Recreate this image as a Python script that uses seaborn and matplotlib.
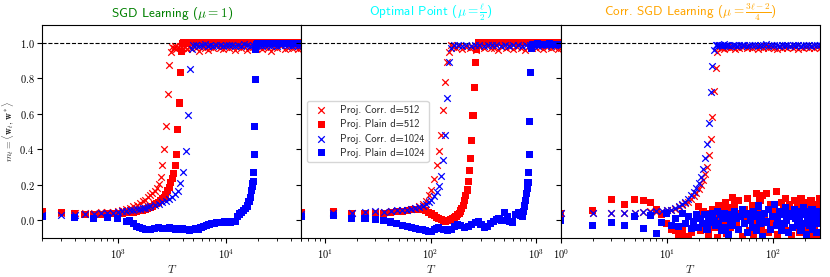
import matplotlib
matplotlib.use("Agg")
import matplotlib.pyplot as plt
import pandas as pd
import seaborn as sns

# ---------------- panel 1 : SGD Learning ----------------
p1_T_corr512 = [200, 300, 400, 500, 600, 700, 800, 900, 1000, 1100,
                1200, 1300, 1400, 1500, 1600, 1700, 1800, 1900, 2000, 2100,
                2200, 2300, 2400, 2500, 2600, 2700, 2800, 2900, 3000, 3100,
                3200, 3300, 3400, 3500, 3600, 3800, 4000, 4200, 4400, 4600,
                4800, 5000, 5300, 5600, 6000, 6400, 6800, 7200, 7700, 8200,
                8800, 9400, 10000, 10700, 11400, 12200, 13000, 13900, 14800, 15800,
                16800, 17900, 19000, 20200, 21500, 23000, 24500, 26000, 28000, 30000,
                32500, 35000, 38000, 41000, 44000, 47000, 50000]
p1_m_corr512 = [0.040, 0.041, 0.040, 0.042, 0.043, 0.044, 0.045, 0.046, 0.050, 0.055,
                0.062, 0.070, 0.078, 0.088, 0.097, 0.106, 0.116, 0.128, 0.140, 0.152,
                0.166, 0.182, 0.205, 0.245, 0.310, 0.400, 0.530, 0.710, 0.875, 0.950,
                0.975, 0.970, 0.980, 0.965, 0.975, 0.980, 0.970, 0.975, 0.962, 0.978,
                0.970, 0.980, 0.972, 0.955, 0.978, 0.970, 0.960, 0.975, 0.968, 0.980,
                0.972, 0.963, 0.975, 0.970, 0.978, 0.958, 0.975, 0.968, 0.980, 0.960,
                0.972, 0.975, 0.968, 0.975, 0.965, 0.978, 0.970, 0.955, 0.975, 0.970,
                0.980, 0.965, 0.972, 0.968, 0.975, 0.962, 0.970]

p1_T_plain512 = [200, 300, 400, 500, 600, 700, 800, 900, 1000, 1100,
                 1200, 1300, 1400, 1500, 1600, 1700, 1800, 1900, 2000, 2100,
                 2200, 2300, 2400, 2500, 2600, 2700, 2800, 2900, 3000, 3100,
                 3200, 3300, 3400, 3500, 3600, 3700, 3800, 3900, 4000, 4100,
                 4300, 4600, 5000, 5400, 5800, 6300, 6800, 7400, 8000, 8700,
                 9400, 10200, 11000, 12000, 13000, 14000, 15200, 16400, 17700, 19000,
                 20500, 22000, 24000, 26000, 28000, 30000, 32500, 35000, 38000, 41000,
                 44000, 47000, 50000]
p1_m_plain512 = [0.047, 0.044, 0.035, 0.030, 0.030, 0.034, 0.038, 0.040, 0.040, 0.040,
                 0.042, 0.044, 0.046, 0.050, 0.053, 0.056, 0.060, 0.065, 0.070, 0.078,
                 0.086, 0.093, 0.100, 0.110, 0.120, 0.130, 0.145, 0.165, 0.185, 0.210,
                 0.235, 0.265, 0.310, 0.370, 0.510, 0.660, 0.830, 0.950, 0.995, 1.000,
                 0.998, 1.000, 1.000, 0.999, 1.000, 0.998, 1.000, 1.000, 0.999, 1.000,
                 1.000, 0.998, 1.000, 0.999, 1.000, 1.000, 0.998, 1.000, 1.000, 0.999,
                 1.000, 0.998, 1.000, 1.000, 0.999, 1.000, 1.000, 0.998, 1.000, 1.000,
                 0.999, 1.000, 1.000]

p1_T_corr1024 = [200, 300, 400, 500, 600, 700, 800, 900, 1000, 1100,
                 1200, 1300, 1400, 1500, 1600, 1700, 1800, 1900, 2000, 2200,
                 2400, 2600, 2800, 3000, 3200, 3400, 3600, 3800, 4000, 4300,
                 4500, 4700, 4850, 5000, 5300, 5600, 6000, 6400, 6800, 7200,
                 7700, 8200, 8800, 9400, 10000, 10700, 11400, 12200, 13000, 13900,
                 14800, 15800, 16800, 17900, 19000, 20200, 21500, 23000, 24500, 26000,
                 28000, 30000, 32500, 35000, 38000, 41000, 44000, 47000, 50000]
p1_m_corr1024 = [0.030, 0.030, 0.032, 0.034, 0.036, 0.038, 0.040, 0.043, 0.046, 0.049,
                 0.052, 0.055, 0.058, 0.061, 0.064, 0.067, 0.070, 0.074, 0.078, 0.085,
                 0.092, 0.100, 0.108, 0.118, 0.130, 0.145, 0.165, 0.210, 0.273, 0.390,
                 0.593, 0.853, 0.965, 0.985, 0.988, 0.982, 0.986, 0.990, 0.984, 0.987,
                 0.983, 0.988, 0.985, 0.982, 0.987, 0.985, 0.988, 0.983, 0.986, 0.984,
                 0.990, 0.985, 0.982, 0.987, 0.985, 0.986, 0.983, 0.988, 0.985, 0.984,
                 0.987, 0.982, 0.986, 0.985, 0.988, 0.983, 0.986, 0.984, 0.987]

p1_T_plain1024 = [200, 400, 600, 800, 1000,
                  1200, 1300, 1400, 1500, 1600, 1700, 1800, 1900, 2000,
                  2200, 2400, 2600, 2800, 3000, 3200, 3400, 3600, 3800, 4000,
                  4200, 4400, 4600, 4800, 5000, 5300, 5600, 5900, 6200, 6600,
                  7000, 7400, 7800, 8300, 8800, 9300, 9800, 10400, 11000, 11600,
                  12200, 12800, 13400, 14000, 14600, 15200, 15800, 16400, 16900, 17300,
                  17600, 17800, 18000, 18200, 18400, 18600, 18800, 19000, 19200, 19600,
                  20200, 21000, 22000, 23000, 24000, 25500, 27000, 28500, 30000, 32000,
                  34000, 36000, 38500, 41000, 44000, 47000, 50000]
p1_m_plain1024 = [0.020, 0.017, 0.012, 0.017, 0.010,
                  -0.008, 0.000, -0.020, -0.035, -0.040, -0.045, -0.050, -0.055, -0.055,
                  -0.045, -0.040, -0.045, -0.045, -0.040, -0.045, -0.050, -0.045, -0.050, -0.045,
                  -0.055, -0.050, -0.060, -0.050, -0.050, -0.045, -0.050, -0.040, -0.035, -0.030,
                  -0.025, -0.020, -0.020, -0.015, -0.015, -0.012, -0.010, -0.012, -0.010, -0.008,
                  -0.005, 0.020, 0.035, 0.045, 0.055, 0.065, 0.080, 0.105, 0.130, 0.165,
                  0.190, 0.205, 0.220, 0.270, 0.370, 0.530, 0.790, 0.960, 0.990, 0.995,
                  0.995, 0.993, 0.996, 0.994, 0.995, 0.993, 0.996, 0.994, 0.995, 0.993,
                  0.996, 0.994, 0.995, 0.993, 0.996, 0.994, 0.995]

# ---------------- panel 2 : Optimal Point ----------------
p2_T_corr512 = [6, 12, 18, 24, 30, 36, 42, 48, 54, 60,
                66, 72, 78, 84, 90, 96, 102, 108, 114, 120,
                126, 132, 138, 144, 150, 156, 162, 174, 186, 198,
                216, 234, 252, 270, 294, 318, 342, 372, 402, 438,
                474, 516, 558, 606, 660, 714, 774, 840, 912, 990,
                1074, 1164, 1260, 1368, 1482, 1608, 1700]
p2_m_corr512 = [0.040, 0.045, 0.040, 0.042, 0.045, 0.047, 0.050, 0.053, 0.056, 0.060,
                0.065, 0.070, 0.078, 0.092, 0.110, 0.140, 0.170, 0.230, 0.310, 0.390,
                0.480, 0.620, 0.780, 0.890, 0.950, 0.985, 0.975, 0.970, 0.980, 0.965,
                0.975, 0.970, 0.978, 0.960, 0.975, 0.970, 0.980, 0.968, 0.972, 0.958,
                0.975, 0.970, 0.978, 0.965, 0.975, 0.970, 0.960, 0.978, 0.972, 0.968,
                0.975, 0.962, 0.978, 0.970, 0.975, 0.965, 0.972]

p2_T_plain512 = [6, 12, 18, 24, 30, 36, 42, 48, 54, 60,
                 66, 72, 78, 84, 90, 96, 102, 108, 114, 120,
                 126, 132, 138, 144, 150, 156, 162, 168, 174, 180,
                 186, 192, 198, 204, 210, 216, 222, 228, 234, 240,
                 246, 252, 258, 264, 270, 282, 300, 324, 348, 378,
                 408, 444, 480, 522, 564, 612, 666, 720, 780, 846,
                 918, 996, 1080, 1170, 1266, 1374, 1488, 1614, 1700]
p2_m_plain512 = [0.045, 0.047, 0.040, 0.040, 0.036, 0.040, 0.045, 0.048, 0.050, 0.055,
                 0.058, 0.060, 0.062, 0.060, 0.055, 0.045, 0.035, 0.025, 0.015, 0.008,
                 0.002, -0.003, -0.005, -0.004, -0.002, 0.002, 0.008, 0.015, 0.022, 0.030,
                 0.040, 0.052, 0.066, 0.085, 0.110, 0.140, 0.170, 0.220, 0.280, 0.350,
                 0.450, 0.590, 0.750, 0.890, 0.960, 0.998, 1.000, 1.000, 0.999, 1.000,
                 0.998, 1.000, 1.000, 0.999, 1.000, 1.000, 0.998, 1.000, 1.000, 0.999,
                 1.000, 0.998, 1.000, 1.000, 0.999, 1.000, 1.000, 0.998, 1.000]

p2_T_corr1024 = [6, 12, 18, 24, 30, 36, 42, 48, 54, 60,
                 66, 72, 78, 84, 90, 96, 102, 108, 114, 120,
                 126, 132, 138, 144, 150, 156, 168, 180, 198, 216,
                 240, 264, 288, 318, 348, 384, 420, 462, 504, 552,
                 606, 666, 726, 798, 870, 954, 1044, 1140, 1248, 1368,
                 1494, 1632, 1700]
p2_m_corr1024 = [0.035, 0.038, 0.040, 0.045, 0.050, 0.048, 0.052, 0.055, 0.058, 0.060,
                 0.064, 0.068, 0.072, 0.080, 0.090, 0.100, 0.115, 0.135, 0.160, 0.190,
                 0.250, 0.340, 0.480, 0.690, 0.890, 0.970, 0.985, 0.988, 0.983, 0.986,
                 0.984, 0.988, 0.985, 0.982, 0.987, 0.985, 0.988, 0.983, 0.986, 0.984,
                 0.987, 0.985, 0.982, 0.988, 0.985, 0.986, 0.983, 0.987, 0.985, 0.984,
                 0.988, 0.985, 0.986]

p2_T_plain1024 = [6, 12, 18, 24, 30, 36, 42, 48, 54, 60,
                  66, 72, 78, 84, 90, 96, 102, 108, 114, 120,
                  132, 144, 156, 168, 180, 192, 210, 228, 246, 264,
                  282, 300, 324, 348, 372, 396, 420, 444, 474, 504,
                  534, 564, 600, 636, 672, 708, 738, 762, 780, 798,
                  810, 822, 834, 846, 858, 870, 882, 894, 912, 942,
                  978, 1020, 1068, 1122, 1182, 1248, 1320, 1398, 1482, 1572,
                  1700]
p2_m_plain1024 = [0.020, 0.025, 0.010, 0.012, 0.005, 0.000, -0.010, -0.020, -0.030, -0.035,
                  -0.040, -0.045, -0.050, -0.055, -0.060, -0.065, -0.065, -0.055, -0.045, -0.040,
                  -0.050, -0.058, -0.050, -0.035, -0.025, -0.030, -0.040, -0.038, -0.025, -0.012,
                  -0.010, -0.025, -0.040, -0.035, -0.020, -0.005, 0.005, 0.010, 0.000, 0.045,
                  0.020, -0.005, -0.010, 0.030, 0.045, 0.025, 0.020, 0.050, 0.080, 0.110,
                  0.150, 0.180, 0.210, 0.270, 0.370, 0.555, 0.830, 0.970, 0.990, 0.992,
                  0.990, 0.993, 0.991, 0.990, 0.992, 0.990, 0.993, 0.991, 0.990, 0.992,
                  0.991]

# ---------------- panel 3 : Corr. SGD Learning ----------------
p3_T_corr = [1, 2, 3, 4, 5, 6, 7, 8, 9, 10,
             11, 12, 13, 14, 15, 16, 17, 18, 19, 20,
             21, 22, 23, 24, 25, 26, 27, 28, 29, 30,
             31, 32, 33, 34, 35, 36, 38, 40, 42, 44,
             46, 48, 51, 54, 57, 60, 64, 68, 72, 76,
             81, 86, 91, 97, 103, 109, 116, 123, 130, 138,
             146, 155, 164, 174, 184, 195, 207, 219, 232, 246,
             261, 280]
p3_m_corr512 = [0.040, 0.038, 0.040, 0.040, 0.042, 0.047, 0.050, 0.048, 0.050, 0.055,
                0.060, 0.065, 0.075, 0.085, 0.095, 0.105, 0.120, 0.135, 0.155, 0.175,
                0.200, 0.225, 0.260, 0.300, 0.370, 0.460, 0.580, 0.730, 0.860, 0.950,
                0.975, 0.980, 0.970, 0.978, 0.965, 0.975, 0.980, 0.970, 0.975, 0.962,
                0.978, 0.970, 0.975, 0.980, 0.968, 0.975, 0.970, 0.978, 0.965, 0.975,
                0.972, 0.980, 0.968, 0.975, 0.970, 0.962, 0.978, 0.972, 0.975, 0.968,
                0.980, 0.970, 0.975, 0.965, 0.978, 0.972, 0.975, 0.968, 0.980, 0.970,
                0.975, 0.972]
p3_m_corr1024 = [0.040, 0.040, 0.040, 0.040, 0.042, 0.045, 0.048, 0.050, 0.052, 0.055,
                 0.060, 0.068, 0.080, 0.092, 0.105, 0.120, 0.140, 0.160, 0.180, 0.210,
                 0.245, 0.290, 0.350, 0.430, 0.550, 0.720, 0.870, 0.960, 0.985, 0.988,
                 0.985, 0.988, 0.983, 0.986, 0.990, 0.985, 0.987, 0.984, 0.988, 0.985,
                 0.983, 0.987, 0.985, 0.988, 0.984, 0.986, 0.985, 0.988, 0.983, 0.987,
                 0.985, 0.990, 0.984, 0.986, 0.985, 0.988, 0.983, 0.987, 0.985, 0.986,
                 0.984, 0.988, 0.985, 0.987, 0.983, 0.986, 0.985, 0.988, 0.984, 0.987,
                 0.985, 0.986]

p3_T_plain = [1, 2, 3, 4, 5, 6, 7, 8, 9, 10,
              11, 12, 13, 14, 15, 16, 17, 18, 19, 20,
              21, 22, 23, 24, 25, 26, 27, 28, 29, 30,
              31, 32, 33, 34, 35, 36, 37, 38, 39, 40,
              42, 44, 46, 48, 50, 52, 54, 56, 58, 60,
              62, 64, 66, 68, 70, 72, 74, 76, 78, 80,
              84, 88, 92, 96, 100, 104, 108, 112, 116, 120,
              124, 128, 132, 136, 140, 145, 150, 155, 160, 165,
              170, 175, 180, 185, 190, 195, 200, 205, 210, 215,
              220, 225, 230, 235, 240, 245, 250, 255, 260, 265,
              270, 275, 280]
p3_m_plain512 = [0.038, 0.056, 0.117, 0.090, 0.118, 0.109, 0.100, 0.060, 0.030, -0.020,
                 -0.050, -0.056, -0.085, -0.060, -0.094, -0.100, -0.070, -0.030, 0.020, 0.075,
                 -0.060, 0.050, -0.020, 0.040, -0.080, 0.000, 0.060, -0.040, 0.030, -0.100,
                 0.085, 0.020, -0.050, 0.060, -0.020, 0.100, -0.075, 0.030, 0.070, -0.040,
                 0.130, 0.090, -0.030, 0.110, 0.040, -0.090, 0.060, 0.000, 0.120, -0.060,
                 0.030, 0.080, -0.100, 0.050, 0.150, -0.020, 0.070, 0.110, -0.050, 0.140,
                 0.020, 0.150, -0.070, 0.090, -0.010, 0.060, 0.160, -0.080, 0.040, 0.100,
                 -0.030, 0.070, 0.120, -0.060, 0.050, 0.090, -0.085, 0.030, 0.110, -0.040,
                 0.080, 0.010, -0.070, 0.120, 0.040, -0.020, 0.090, -0.066, 0.060, 0.100,
                 -0.050, 0.030, 0.110, -0.080, 0.070, 0.020, -0.040, 0.090, 0.050, -0.100,
                 0.060, 0.120, 0.080]
p3_m_plain1024 = [0.000, -0.028, -0.015, -0.028, 0.023, -0.047, 0.028, -0.075, -0.015, 0.038,
                  -0.028, 0.010, -0.038, 0.040, -0.020, 0.020, -0.045, -0.010, 0.030, -0.040,
                  0.010, -0.020, 0.030, -0.050, 0.020, -0.010, 0.040, 0.000, -0.030, 0.050,
                  -0.020, 0.030, -0.060, 0.010, 0.040, -0.040, 0.020, -0.080, 0.030, 0.000,
                  -0.030, 0.050, 0.010, -0.050, 0.020, 0.060, -0.020, 0.030, -0.070, 0.040,
                  0.000, -0.040, 0.050, 0.020, -0.060, 0.030, 0.080, -0.020, 0.010, -0.090,
                  0.040, -0.010, 0.060, -0.050, 0.020, 0.090, -0.030, 0.010, 0.050, -0.060,
                  0.030, -0.020, 0.070, 0.000, -0.070, 0.040, 0.020, -0.040, 0.060, 0.010,
                  -0.030, 0.050, 0.000, -0.060, 0.030, 0.070, -0.020, 0.040, -0.080, 0.020,
                  0.050, -0.030, 0.010, 0.060, -0.050, 0.030, -0.010, 0.040, -0.070, 0.020,
                  -0.020, 0.050, 0.000]

labels = ["Proj. Corr. d=512", "Proj. Plain d=512", "Proj. Corr. d=1024", "Proj. Plain d=1024"]
titles = ["SGD Learning ($\\mu = 1$)",
          "Optimal Point ($\\mu = \\frac{\\ell}{2}$)",
          "Corr. SGD Learning ($\\mu = \\frac{3\\ell-2}{4}$)"]
title_colors = ["green", "cyan", "orange"]

panels = [
    [(p1_T_corr512, p1_m_corr512), (p1_T_plain512, p1_m_plain512),
     (p1_T_corr1024, p1_m_corr1024), (p1_T_plain1024, p1_m_plain1024)],
    [(p2_T_corr512, p2_m_corr512), (p2_T_plain512, p2_m_plain512),
     (p2_T_corr1024, p2_m_corr1024), (p2_T_plain1024, p2_m_plain1024)],
    [(p3_T_corr, p3_m_corr512), (p3_T_plain, p3_m_plain512),
     (p3_T_corr, p3_m_corr1024), (p3_T_plain, p3_m_plain1024)],
]
colors = ["red", "red", "blue", "blue"]
markers = ["x", "s", "x", "s"]

sns.set_theme(style="ticks")
plt.rcParams["font.family"] = ["serif"]
plt.rcParams["font.serif"] = ["cmr10", "DejaVu Serif"]
plt.rcParams["mathtext.fontset"] = "cm"
plt.rcParams["axes.formatter.use_mathtext"] = True
plt.rcParams["axes.edgecolor"] = "black"
plt.rcParams["xtick.color"] = "black"
plt.rcParams["ytick.color"] = "black"
SANS = "cmss10"

fig = plt.figure(figsize=(8.3, 2.77), dpi=100)
axes = fig.subplots(1, 3, sharey=True)
fig.subplots_adjust(left=0.0506, right=0.988, top=0.91, bottom=0.141, wspace=0)

for i, ax in enumerate(axes):
    ax.axhline(1.0, color="black", linestyle="--", linewidth=0.8, zorder=0.5)
    all_T = []
    for j, (T, m) in enumerate(panels[i]):
        df = pd.DataFrame({"T": T, "m": m})
        all_T += T
        lab = labels[j] if i == 1 else None
        if markers[j] == "x":
            sns.scatterplot(data=df, x="T", y="m", ax=ax, color=colors[j], marker="x",
                            s=22, linewidth=0.9, label=lab, legend=False)
        else:
            sns.scatterplot(data=df, x="T", y="m", ax=ax, color=colors[j], marker="s",
                            s=26, linewidth=0, edgecolor="none", label=lab, legend=False)
    ax.set_xscale("log")
    ax.set_xlim(min(all_T), max(all_T))
    ax.set_ylim(-0.1, 1.1)
    ax.set_title(titles[i], color=title_colors[i], fontfamily=SANS, fontsize=9.5)
    ax.set_xlabel("$T$", fontsize=8.5, labelpad=1)
    ax.set_ylabel("")
    ax.tick_params(labelsize=7.5, length=3.5, width=0.8)
    ax.tick_params(axis="y", pad=2)
    ax.tick_params(which="minor", length=2, width=0.6)
    for sp in ax.spines.values():
        sp.set_linewidth(0.8)

axes[0].set_ylabel("$m_t = \\langle \\mathbf{w}_t, \\mathbf{w}^* \\rangle$", fontsize=7)
axes[0].yaxis.set_label_coords(-0.1, 0.5)
axes[1].legend(loc="center left", bbox_to_anchor=(0.0, 0.5),
               prop={"family": SANS, "size": 7.5}, frameon=True, borderpad=0.4,
               labelspacing=0.4, handletextpad=0.8)

fig.savefig("out.png", dpi=100)
